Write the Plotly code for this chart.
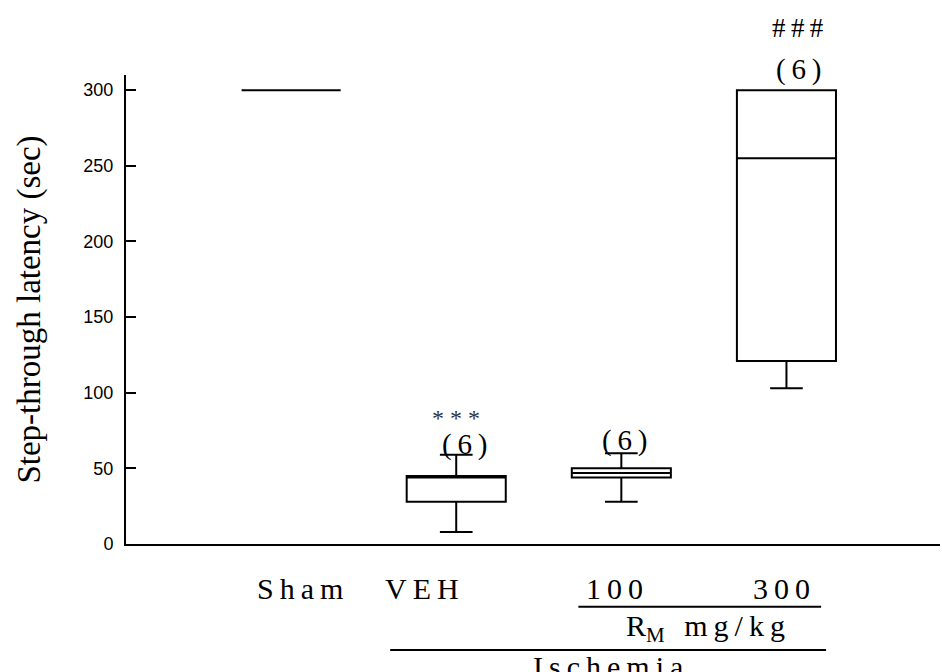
import plotly.graph_objects as go

# ---- data ----
groups = ["Sham", "VEH", "100", "300"]
tick_labels = ["S\u2009h\u2009a\u2009m", "V\u2009E\u2009H", "1\u20090\u20090", "3\u20090\u20090"]
lower_whisker = [300, 8, 28, 103]
q1_vals = [300, 28, 44, 121]
median_vals = [300, 44, 47, 255]
q3_vals = [300, 45, 50, 300]
upper_whisker = [300, 59, 60, 300]
n_labels = ["", "(\u20096\u2009)", "(\u20096\u2009)", "(\u20096\u2009)"]
sig_labels = ["", "* * *", "", "#\u2009#\u2009#"]

positions = list(range(len(groups)))
# horizontal offsets of the group labels relative to the box centres (layout only)
label_offsets = [0.055, -0.21, -0.04, -0.03]

fig = go.Figure()
for i, g in enumerate(groups):
    fig.add_trace(go.Box(
        x=[positions[i]],
        q1=[q1_vals[i]], median=[median_vals[i]], q3=[q3_vals[i]],
        lowerfence=[lower_whisker[i]], upperfence=[upper_whisker[i]],
        width=0.6, whiskerwidth=0.33,
        line=dict(color="black", width=2),
        fillcolor="white",
        boxpoints=False,
        hoverinfo="skip",
        name=g,
        showlegend=False,
    ))

serif = "Liberation Serif"
ann = []
for i, lab in enumerate(tick_labels):
    ann.append(dict(x=positions[i] + label_offsets[i], y=-0.094, xref="x", yref="paper",
                    yanchor="middle", text=lab, showarrow=False,
                    font=dict(family=serif, size=30, color="black")))
# n labels (VEH and 100 in data coords, 300 above the plot in paper coords)
ann.append(dict(x=1.05, y=65.5, xref="x", yref="y", text=n_labels[1], showarrow=False,
                yanchor="middle", font=dict(family=serif, size=29, color="black")))
ann.append(dict(x=2.02, y=68.7, xref="x", yref="y", text=n_labels[2], showarrow=False,
                yanchor="middle", font=dict(family=serif, size=29, color="black")))
ann.append(dict(x=3.07, y=1.011, xref="x", yref="paper", text=n_labels[3], showarrow=False,
                yanchor="middle", font=dict(family=serif, size=29, color="black")))
ann.append(dict(x=1.0, y=83, xref="x", yref="y", text=sig_labels[1], showarrow=False,
                yanchor="middle", font=dict(family=serif, size=24, color="#333333")))
ann.append(dict(x=3.07, y=1.10, xref="x", yref="paper", text=sig_labels[3], showarrow=False,
                yanchor="middle", font=dict(family=serif, size=27, color="black")))

ann.append(dict(x=2.51, y=-0.18, xref="x", yref="paper", yanchor="middle",
                text="R<sub>M</sub>\u2009\u2009 m\u2009g\u2009/\u2009k\u2009g", showarrow=False,
                font=dict(family=serif, size=30, color="black")))
ann.append(dict(x=1.92, y=-0.262, xref="x", yref="paper", yanchor="middle",
                text="I\u2009s\u2009c\u2009h\u2009e\u2009m\u2009i\u2009a", showarrow=False,
                font=dict(family=serif, size=30, color="black")))

shapes = [
    dict(type="line", xref="x", yref="paper", x0=1.74, x1=3.21, y0=-0.134, y1=-0.134,
         line=dict(color="black", width=2)),
    dict(type="line", xref="x", yref="paper", x0=0.60, x1=3.24, y0=-0.226, y1=-0.226,
         line=dict(color="black", width=2)),
]

fig.update_layout(
    width=942, height=672,
    margin=dict(l=126, r=2, t=75, b=128),
    paper_bgcolor="white", plot_bgcolor="white",
    annotations=ann, shapes=shapes,
    xaxis=dict(range=[-1, 3.93], showticklabels=False,
               showline=True, linecolor="black", linewidth=2, ticks="",
               showgrid=False, zeroline=False),
    yaxis=dict(range=[0, 310], tickvals=[0, 50, 100, 150, 200, 250, 300],
               showline=True, linecolor="black", linewidth=2,
               ticks="inside", ticklen=10, tickwidth=1.5, tickcolor="black",
               showgrid=False, zeroline=False, ticklabelstandoff=7,
               tickfont=dict(family="Liberation Sans", size=18, color="black"),
               title=dict(text="Step-through latency (sec)", standoff=33,
                          font=dict(family=serif, size=33, color="black"))),
)

fig.write_html("out.html")
